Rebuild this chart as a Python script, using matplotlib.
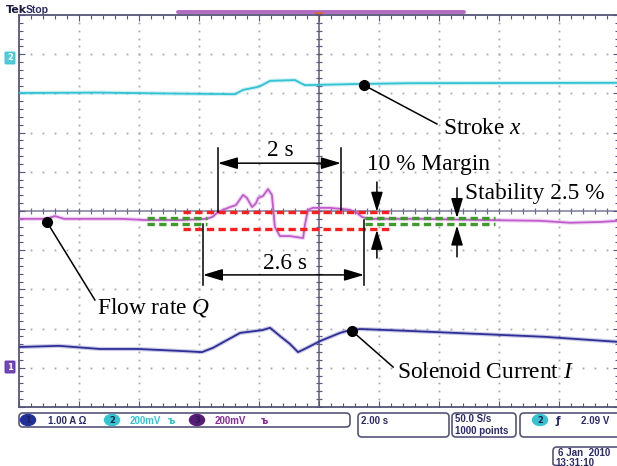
import matplotlib
matplotlib.use("Agg")
import matplotlib.pyplot as plt
import numpy as np
from matplotlib.patches import FancyBboxPatch, FancyArrowPatch, Ellipse, Polygon

W, H = 617, 466

# Time in s (2 s/div, trigger at 0); level in divisions from screen centre
stroke_t = [-10, -7.3, -5.3, -2.8, -2.53, -2.07, -1.9, -1.63, -0.8, -0.63, -0.47, 1.27, 3.03, 10]
stroke_v = [3.01, 3.02, 3.00, 2.98, 3.09, 3.16, 3.21, 3.32, 3.34, 3.27, 3.21, 3.24, 3.26, 3.27]

flow_t = [-10, -9.1, -8.8, -8.5, -6.6, -5.8, -4.6, -3.75, -3.55, -3.37, -2.97, -2.77,
          -2.53, -2.4, -2.23, -2.1, -2.03, -1.87, -1.7, -1.57, -1.47, -1.3, -0.97,
          -0.53, -0.47, -0.37, -0.2, 0.37, 1.03, 1.27, 1.43, 1.63, 3.37, 5.37, 7.37,
          8.37, 9.37, 10]
flow_v = [-0.2, -0.2, -0.13, -0.2, -0.2, -0.23, -0.23, -0.2, -0.15, -0.03, 0.10, 0.15,
          0.41, 0.33, 0.10, 0.2, 0.33, 0.38, 0.56, 0.41, -0.41, -0.64, -0.64,
          -0.69, -0.36, 0.03, 0.08, 0.08, 0.03, -0.05, -0.15, -0.2, -0.2, -0.23, -0.25,
          -0.3, -0.28, -0.25]

current_t = [-10, -8.67, -7.3, -6.03, -4.63, -3.9, -3.53, -3.13, -2.63, -1.9, -1.63,
             -1.3, -0.97, -0.7, -0.4, 0.03, 0.7, 0.93, 1.37, 3.03, 4.53, 7.53, 10]
current_v = [-3.47, -3.44, -3.52, -3.52, -3.57, -3.60, -3.49, -3.32, -3.11, -3.04, -2.98,
             -3.19, -3.39, -3.60, -3.49, -3.32, -3.11, -3.06, -3.01, -3.06, -3.11, -3.21,
             -3.34]

# tolerance bands (levels in div) and their time spans
margin_levels = [-0.03, -0.46]
margin_span = (-4.53, 2.37)
stab_levels = [-0.19, -0.34]
stab_spans = [(-5.73, -3.73), (1.53, 5.87)]

FRAME = "#55557a"
GRID = "#a6a6b8"
CYAN = "#33c3d3"
PURPLE = "#c25ccc"
BLUE = "#2e2e98"
NAVY = "#2a2a66"

plt.rcParams["font.family"] = ["Liberation Serif", "DejaVu Serif"]
plt.rcParams["mathtext.fontset"] = "custom"
plt.rcParams["mathtext.rm"] = "Liberation Serif"
plt.rcParams["mathtext.it"] = "Liberation Serif:italic"

fig = plt.figure(figsize=(W / 100, H / 100), dpi=100)

# pixel-space overlay for the scope chrome
ov = fig.add_axes([0, 0, 1, 1], zorder=0)
ov.set_xlim(0, W)
ov.set_ylim(H, 0)
ov.axis("off")

ax = fig.add_axes([19 / W, 1 - 407 / H, 600 / W, 392 / H], zorder=1)
ax.set_xlim(-10, 10)
ax.set_ylim(-5, 5)
for s in ax.spines.values():
    s.set_color(FRAME)
    s.set_linewidth(1.3)
ax.set_xticks(np.arange(-10, 11, 2))
ax.set_xticks(np.arange(-10, 10.01, 0.4), minor=True)
ax.set_yticks(np.arange(-5, 6, 1))
ax.set_yticks(np.arange(-5, 5.01, 0.2), minor=True)
ax.tick_params(which="both", direction="in", top=True, right=True,
               labelbottom=False, labelleft=False, color=FRAME, width=0.8)
ax.tick_params(which="major", length=4)
ax.tick_params(which="minor", length=3)

# dotted graticule
ym = np.arange(-5, 5.01, 0.2)
xm = np.arange(-10, 10.01, 0.4)
for gx in np.arange(-8, 9, 2):
    if gx != 0:
        ax.plot(np.full(len(ym), gx), ym, ls="none", marker="s", ms=1.3,
                mew=0, color=GRID, zorder=1)
for gy in np.arange(-4, 5, 1):
    if gy != 0:
        ax.plot(xm, np.full(len(xm), gy), ls="none", marker="s", ms=1.3,
                mew=0, color=GRID, zorder=1)

# centre crosshair with minor ticks
ax.axhline(0, color="#7c7c9c", lw=1.1, zorder=1)
ax.axvline(0, color="#5c5c80", lw=1.1, zorder=1)
ax.plot(xm, np.zeros(len(xm)), ls="none", marker="|", ms=5, mew=0.9, color="#6c6c8c", zorder=1)
ax.plot(np.zeros(len(ym)), ym, ls="none", marker="_", ms=5, mew=0.9, color="#5c5c80", zorder=1)

# traces with a faint phosphor halo
for t, v, c in [(stroke_t, stroke_v, CYAN), (flow_t, flow_v, PURPLE), (current_t, current_v, BLUE)]:
    ax.plot(t, v, color=c, lw=3.0, alpha=0.25, zorder=2, solid_joinstyle="round")
    ax.plot(t, v, color=c, lw=1.3, zorder=3, solid_joinstyle="round")

# tolerance bands
for lv in margin_levels:
    ax.plot(margin_span, [lv, lv], color="#ff1f1f", lw=2.4, ls=(0, (2.2, 1.3)), zorder=4)
for lv in stab_levels:
    for sp in stab_spans:
        ax.plot(sp, [lv, lv], color="#3f9a2c", lw=2.4, ls=(0, (2.2, 1.3)), zorder=4)


def arrow(p0, p1, style):
    ax.add_patch(FancyArrowPatch(p0, p1, arrowstyle=style, mutation_scale=12,
                                 color="k", lw=1.1, shrinkA=0, shrinkB=0, zorder=5))


TXT = dict(fontsize=16.8, color="k", va="baseline", ha="left", zorder=6)

# 2 s dimension
ax.plot([-3.37, -3.37], [1.61, -0.03], color="k", lw=1.1, zorder=5)
ax.plot([0.73, 0.73], [1.61, 0.03], color="k", lw=1.1, zorder=5)
arrow((-3.37, 1.22), (0.73, 1.22), "<|-|>,head_length=1.0,head_width=0.3")
ax.text(-1.3, 1.40, "2 s", **{**TXT, "ha": "center"})

# 2.6 s dimension
ax.plot([-3.87, -3.87], [-0.33, -1.89], color="k", lw=1.1, zorder=5)
ax.plot([1.5, 1.5], [-0.22, -1.89], color="k", lw=1.1, zorder=5)
arrow((-3.87, -1.63), (1.5, -1.63), "<|-|>,head_length=1.0,head_width=0.3")
ax.text(-1.13, -1.48, "2.6 s", **{**TXT, "ha": "center"})

# margin / stability arrows
arrow((1.93, 0.74), (1.93, -0.02), "-|>,head_length=1.0,head_width=0.3")
arrow((1.93, -1.2), (1.93, -0.48), "-|>,head_length=1.0,head_width=0.3")
ax.text(1.6, 1.05, "10 % Margin", **TXT)
arrow((4.6, 0.59), (4.6, -0.18), "-|>,head_length=1.0,head_width=0.3")
arrow((4.6, -1.17), (4.6, -0.37), "-|>,head_length=1.0,head_width=0.3")
ax.text(4.87, 0.31, "Stability 2.5 %", **TXT)

# trace labels with leader lines
for dot, end, pos, label in [((1.5, 3.21), (3.93, 2.22), (4.13, 1.96), "Stroke $x$"),
                             ((-9.07, -0.28), (-7.47, -2.27), (-7.4, -2.62), "Flow rate $Q$"),
                             ((1.1, -3.06), (2.47, -3.98), (2.6, -4.26), "Solenoid Current $I$")]:
    ax.plot([dot[0], end[0]], [dot[1], end[1]], color="k", lw=1.1, zorder=5)
    ax.plot(*dot, marker="o", ms=7, color="k", zorder=6)
    ax.text(pos[0], pos[1], label, **TXT)

# ---- scope chrome (pixel coordinates) ----
SANS = dict(family="Liberation Sans", fontweight="bold", va="center", ha="left")
ov.text(6, 10, "Tek", fontsize=8, color="#1a1a40", **{**SANS, "family": "DejaVu Sans"})
ov.text(26, 10, "Stop", fontsize=7.5, color=NAVY, **SANS)
ov.plot([178, 464], [12, 12], color="#b16cc0", lw=2.8, solid_capstyle="round")
ov.add_patch(Polygon([[315, 13], [323, 13], [319, 18]], closed=True, color="#e0622a", zorder=3))

# channel ground markers
for yc, col, lab in [(58, CYAN, "2"), (367, "#5a2aa8", "1")]:
    ov.add_patch(FancyBboxPatch((6, yc - 5), 8, 10, boxstyle="round,pad=0.8",
                                fc=col, ec=col, alpha=0.85))
    ov.text(10, yc, lab, fontsize=6, color="white", family="DejaVu Sans",
            fontweight="bold", ha="center", va="center")

# status bar boxes
for x0, y0, x1, y1 in [(19, 413, 350, 427), (358, 413, 449, 437),
                       (452, 413, 516, 437), (520, 413, 622, 437),
                       (553, 447, 622, 468)]:
    ov.add_patch(FancyBboxPatch((x0, y0), x1 - x0, y1 - y0,
                                boxstyle="round,pad=0,rounding_size=4",
                                fc="none", ec="#555577", lw=1.2))

for xc, col, lab in [(28, "#1f2f9e", "1"), (112, CYAN, "2"), (197, "#5a1a78", "3"), (540, CYAN, "2")]:
    ov.add_patch(Ellipse((xc, 420), 15, 11, color=col))
    ov.text(xc, 420.5, lab, fontsize=6, color="#20204a", family="DejaVu Sans",
            fontweight="bold", ha="center", va="center")

ov.text(48, 420.5, "1.00 A \u03a9", fontsize=7, color=NAVY, **SANS)
ov.text(130, 420.5, "200mV", fontsize=7, color=CYAN, **SANS)
ov.text(168, 420.5, "\u044a", fontsize=7, color=CYAN, **{**SANS, "family": "DejaVu Sans"})
ov.text(215, 420.5, "200mV", fontsize=7, color="#8a2a9a", **SANS)
ov.text(261, 420.5, "\u044a", fontsize=7, color="#8a2a9a", **{**SANS, "family": "DejaVu Sans"})
ov.text(361, 420.5, "2.00 s", fontsize=7, color=NAVY, **SANS)
ov.text(455, 419.5, "50.0 S/s", fontsize=7, color=NAVY, **SANS)
ov.text(455, 430.5, "1000 points", fontsize=7, color=NAVY, **SANS)
ov.text(556, 420.5, "\u0192", fontsize=7.5, color=NAVY, **{**SANS, "family": "DejaVu Sans"})
ov.text(581, 420.5, "2.09 V", fontsize=7, color=NAVY, **SANS)
ov.text(558, 453.5, "6 Jan  2010", fontsize=7, color=NAVY, **SANS)
ov.text(555, 462.5, "13:31:10", fontsize=7, color=NAVY, **SANS)

fig.savefig("out.png", dpi=100)
